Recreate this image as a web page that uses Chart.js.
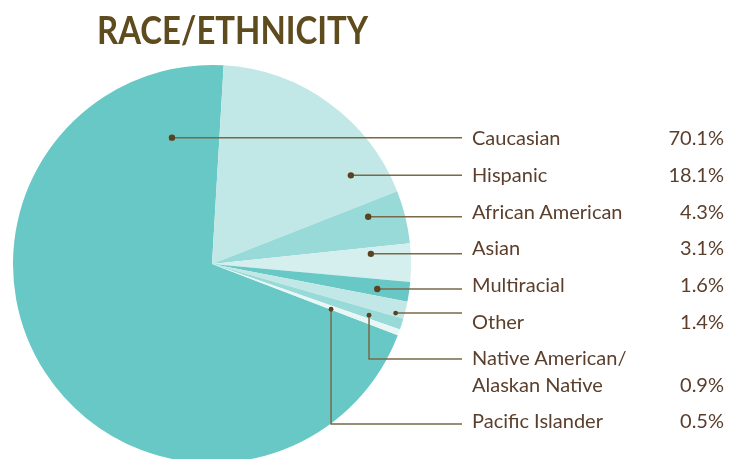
<!DOCTYPE html>
<html>
<head>
<meta charset="utf-8">
<script src="https://cdn.jsdelivr.net/npm/chart.js@4.4.1/dist/chart.umd.min.js"></script>
<style>
    html, body { margin: 0; padding: 0; background: #fff; width: 731px; height: 459px; overflow: hidden; }
    #wrap { position: relative; width: 731px; height: 459px; overflow: hidden; }
    #myChart { position: absolute; left: 0; top: 0; }
    h1 { position: absolute; left: 97px; top: 1px; margin: 0; font: bold 39px Lato, sans-serif; line-height: 56px; color: #5e4b1e; white-space: nowrap; transform-origin: 0 0; }
    .lbl, .pct { position: absolute; font: 20px Lato, sans-serif; line-height: 27px; color: #5b3f2c; white-space: nowrap; }
    .lbl { left: 472px; }
    .pct { right: 7px; text-align: right; }
</style>
</head>
<body>
<div id="wrap">
    <canvas id="myChart" width="731" height="540"></canvas>
    <h1 id="title">RACE/ETHNICITY</h1>
</div>
<script>
var categories = ['Caucasian', 'Hispanic', 'African American', 'Asian', 'Multiracial', 'Other', ['Native American/', 'Alaskan Native'], 'Pacific Islander'];
var values = [70.1, 18.1, 4.3, 3.1, 1.6, 1.4, 0.9, 0.5];
var valueLabels = ['70.1%', '18.1%', '4.3%', '3.1%', '1.6%', '1.4%', '0.9%', '0.5%'];

// styling / layout
var colors = ['#68c8c5', '#c1e8e7', '#98dad8', '#d4efee', '#68c8c5', '#c1e8e7', '#98dad8', '#e8f7f6'];
var rowY = [137, 174, 211, 247, 284, 321, 384, 420];   // centre of the last text line of each row
// where the dot sits inside its slice: [fraction along the arc, fraction of radius]
var dotPos = [[0.917, 0.666], [0.83, 0.828], [0.30, 0.82], [0.21, 0.80], [0.6, 0.84], [0.8, 0.955], [0.65, 0.83], [0.9, 0.64]];
var elbow = [false, false, false, false, false, false, true, true];
var lineEnd = 462;

// squeeze the title to the condensed width of the original
var title = document.getElementById('title');
title.style.transform = 'scaleX(' + (271 / title.offsetWidth) + ')';

var wrap = document.getElementById('wrap');
categories.forEach(function (c, i) {
    var lines = Array.isArray(c) ? c : [c];
    var lbl = document.createElement('div');
    lbl.className = 'lbl';
    lbl.innerHTML = lines.join('<br>');
    lbl.style.top = (rowY[i] - 13.5 - (lines.length - 1) * 27) + 'px';
    wrap.appendChild(lbl);
    var pct = document.createElement('div');
    pct.className = 'pct';
    pct.textContent = valueLabels[i];
    pct.style.top = (rowY[i] - 13.5) + 'px';
    wrap.appendChild(pct);
});

var leaders = {
    id: 'leaders',
    afterDatasetsDraw: function (chart) {
        var ctx = chart.ctx;
        var arcs = chart.getDatasetMeta(0).data;
        ctx.save();
        arcs.forEach(function (arc, i) {
            var p = arc.getProps(['x', 'y', 'startAngle', 'endAngle', 'outerRadius'], true);
            var a = p.startAngle + (p.endAngle - p.startAngle) * dotPos[i][0];
            var r = p.outerRadius * dotPos[i][1];
            var px = p.x + Math.cos(a) * r;
            var py = p.y + Math.sin(a) * r;
            ctx.strokeStyle = '#7a6848';
            ctx.lineWidth = 1.5;
            ctx.beginPath();
            ctx.moveTo(px, py);
            if (elbow[i]) {
                var ey = i === 6 ? rowY[i] - 25 : rowY[i] + 4;
                ctx.lineTo(px, ey);
                ctx.lineTo(lineEnd, ey);
            } else {
                ctx.lineTo(lineEnd, py);
            }
            ctx.stroke();
            ctx.fillStyle = '#5a4220';
            ctx.beginPath();
            ctx.arc(px, py, i < 5 ? 3.2 : 2.4, 0, Math.PI * 2);
            ctx.fill();
        });
        ctx.restore();
    }
};

var ctx = document.getElementById('myChart').getContext('2d');
new Chart(ctx, {
    type: 'pie',
    data: {
        labels: categories,
        datasets: [{
            data: values,
            backgroundColor: colors,
            borderWidth: 0,
            hoverOffset: 0
        }]
    },
    options: {
        responsive: false,
        devicePixelRatio: 1,
        animation: false,
        rotation: 111,
        layout: { padding: { left: 13, right: 320, top: 65, bottom: 77 } },
        plugins: {
            legend: { display: false },
            tooltip: { enabled: false }
        }
    },
    plugins: [leaders]
});
</script>
</body>
</html>
